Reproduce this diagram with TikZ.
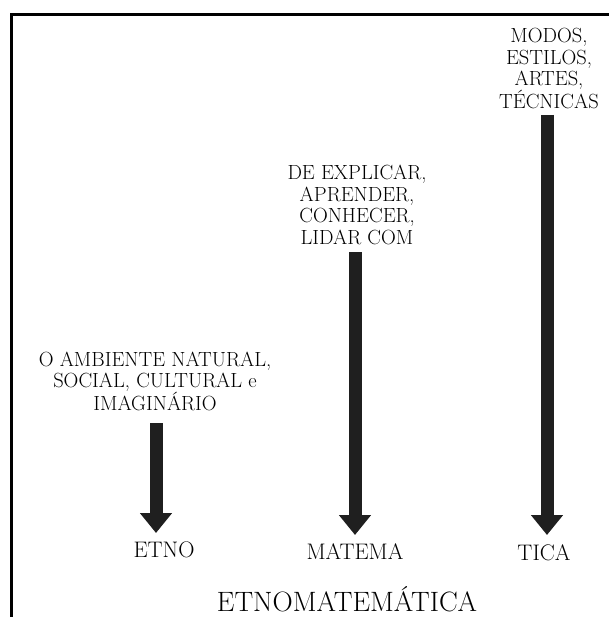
\documentclass[tikz,border=0pt]{standalone}
\usepackage{tikz}
\usetikzlibrary{arrows.meta}

\tikzset{
  seta/.style={line width=13, draw=black!88, -{Triangle[width=31pt,length=20pt]}},
  bloco/.style={align=center, inner sep=0, anchor=north, font=\fontsize{20.5}{21.5}\selectfont},
  parte/.style={inner sep=0, anchor=base, font=\fontsize{22.5}{24}\selectfont},
}

\begin{document}
\begin{tikzpicture}[x=1pt,y=-1pt]
    \useasboundingbox (0,0) rectangle (609,617);
    \draw[line width=3] (11,617) -- (11,15) -- (609,15);

    \coordinate (etnotopo) at (156,423);
    \coordinate (etnoponta) at (156,533);
    \coordinate (matematopo) at (355,252);
    \coordinate (matemaponta) at (355,535);
    \coordinate (ticatopo) at (547,115);
    \coordinate (ticaponta) at (547,535);

    \node[bloco, font=\fontsize{20.5}{20.5}\selectfont] (etnotexto) at (155,352)
        {O AMBIENTE NATURAL,\\ SOCIAL, CULTURAL e\\ IMAGINÁRIO};
    \node[bloco] (matematexto) at (357,165)
        {DE EXPLICAR,\\ APRENDER,\\ CONHECER,\\ LIDAR COM};
    \node[bloco] (ticatexto) at (549,28)
        {MODOS,\\ ESTILOS,\\ ARTES,\\ TÉCNICAS};

    \draw[seta] (etnotopo) -- (etnoponta);
    \draw[seta] (matematopo) -- (matemaponta);
    \draw[seta] (ticatopo) -- (ticaponta);

    \node[parte] (etno) at (164,557) {ETNO};
    \node[parte] (matema) at (355,559) {MATEMA};
    \node[parte] (tica) at (544,560) {TICA};

    \node[parte, font=\fontsize{28}{30}\selectfont] (etnomatematica) at (347,611) {ETNOMATEMÁTICA};
\end{tikzpicture}
\end{document}
